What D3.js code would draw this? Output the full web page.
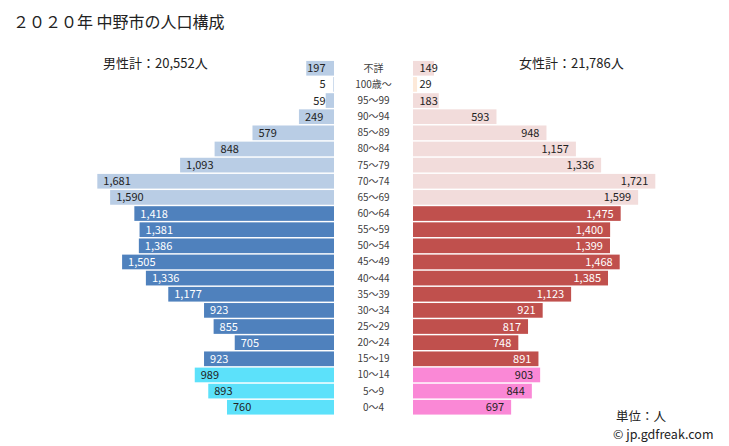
<!DOCTYPE html>
<html>
<head>
<meta charset="utf-8">
<script src="https://cdn.jsdelivr.net/npm/d3@7"></script>
<style>
  html, body { margin: 0; padding: 0; background: #fff; }
  svg { display: block; font-family: "Noto Sans CJK JP", "Noto Sans", sans-serif; }
</style>
</head>
<body>
<svg id="chart" width="729" height="446"></svg>
<script>
const ages = ["不詳","100歳～","95～99","90～94","85～89","80～84","75～79","70～74","65～69","60～64","55～59","50～54","45～49","40～44","35～39","30～34","25～29","20～24","15～19","10～14","5～9","0～4"];
const male = [197,5,59,249,579,848,1093,1681,1590,1418,1381,1386,1505,1336,1177,923,855,705,923,989,893,760];
const female = [149,29,183,593,948,1157,1336,1721,1599,1475,1400,1399,1468,1385,1123,921,817,748,891,903,844,697];
const groups = ["old","old","old","old","old","old","old","old","old","work","work","work","work","work","work","work","work","work","work","young","young","young"];
const title = "２０２０年 中野市の人口構成";
const maleTotal = "男性計：20,552人";
const femaleTotal = "女性計：21,786人";

const maleColor = {old: "#b9cde5", work: "#4f81bd", young: "#5ce1fa"};
const femaleColor = {old: "#f2dcdb", work: "#c0504d", young: "#fa88d6"};
const maleText = {old: "#222", work: "#fff", young: "#222"};
const femaleText = {old: "#222", work: "#fff", young: "#222"};

const svg = d3.select("#chart");
const maleAxisX = 334, femaleAxisX = 413;
const maxVal = 1750, span = 246.4;

const xm = d3.scaleLinear().domain([0, maxVal]).range([maleAxisX, maleAxisX - span]);
const xf = d3.scaleLinear().domain([0, maxVal]).range([femaleAxisX, femaleAxisX + span]);
const y = d3.scaleBand().domain(ages).range([60.2, 415.3]).paddingInner(0.09).paddingOuter(0.045);

const rows = ages.map((a, i) => ({age: a, m: male[i], f: female[i], g: groups[i]}));

// title
svg.append("text").attr("x", 13).attr("y", 28).attr("font-size", 16).attr("fill", "#222").text(title);
svg.append("text").attr("x", 103).attr("y", 67.5).attr("font-size", 13).attr("fill", "#222").text(maleTotal);
svg.append("text").attr("x", 519).attr("y", 67.5).attr("font-size", 13).attr("fill", "#222").text(femaleTotal);

// male bars
svg.append("g").selectAll("rect").data(rows).join("rect")
  .attr("x", d => xm(d.m)).attr("y", d => y(d.age))
  .attr("width", d => xm(0) - xm(d.m)).attr("height", y.bandwidth())
  .attr("fill", d => maleColor[d.g]);

// female bars
svg.append("g").selectAll("rect").data(rows).join("rect")
  .attr("x", xf(0)).attr("y", d => y(d.age))
  .attr("width", d => xf(d.f) - xf(0)).attr("height", y.bandwidth())
  .attr("fill", d => d.age === "100歳～" ? "#fde9d9" : femaleColor[d.g]);

const fmt = d3.format(",");
// male labels
svg.append("g").selectAll("text").data(rows).join("text")
  .attr("font-size", 11)
  .attr("fill", d => maleText[d.g])
  .attr("y", d => y(d.age) + y.bandwidth() / 2 + 4)
  .text(d => fmt(d.m))
  .each(function(d) {
    const w = this.getComputedTextLength();
    const x = Math.min(xm(d.m) + 6, 325.5 - w);
    d3.select(this).attr("x", x);
  });

// female labels
svg.append("g").selectAll("text").data(rows).join("text")
  .attr("font-size", 11)
  .attr("fill", d => femaleText[d.g])
  .attr("y", d => y(d.age) + y.bandwidth() / 2 + 4)
  .text(d => fmt(d.f))
  .each(function(d) {
    const w = this.getComputedTextLength();
    const x = Math.max(xf(d.f) - 7 - w, 419.5);
    d3.select(this).attr("x", x);
  });

// age labels
svg.append("g").selectAll("text").data(rows).join("text")
  .attr("x", (maleAxisX + femaleAxisX) / 2)
  .attr("y", d => y(d.age) + y.bandwidth() / 2 + 3.5)
  .attr("text-anchor", "middle").attr("font-size", 10).attr("fill", "#404040")
  .text(d => d.age);

svg.append("text").attr("x", 616).attr("y", 420.5).attr("font-size", 12.5).attr("fill", "#222").text("単位：人");
svg.append("text").attr("x", 613).attr("y", 438.5).attr("font-size", 12.5).attr("fill", "#222").text("© jp.gdfreak.com");
</script>
</body>
</html>
